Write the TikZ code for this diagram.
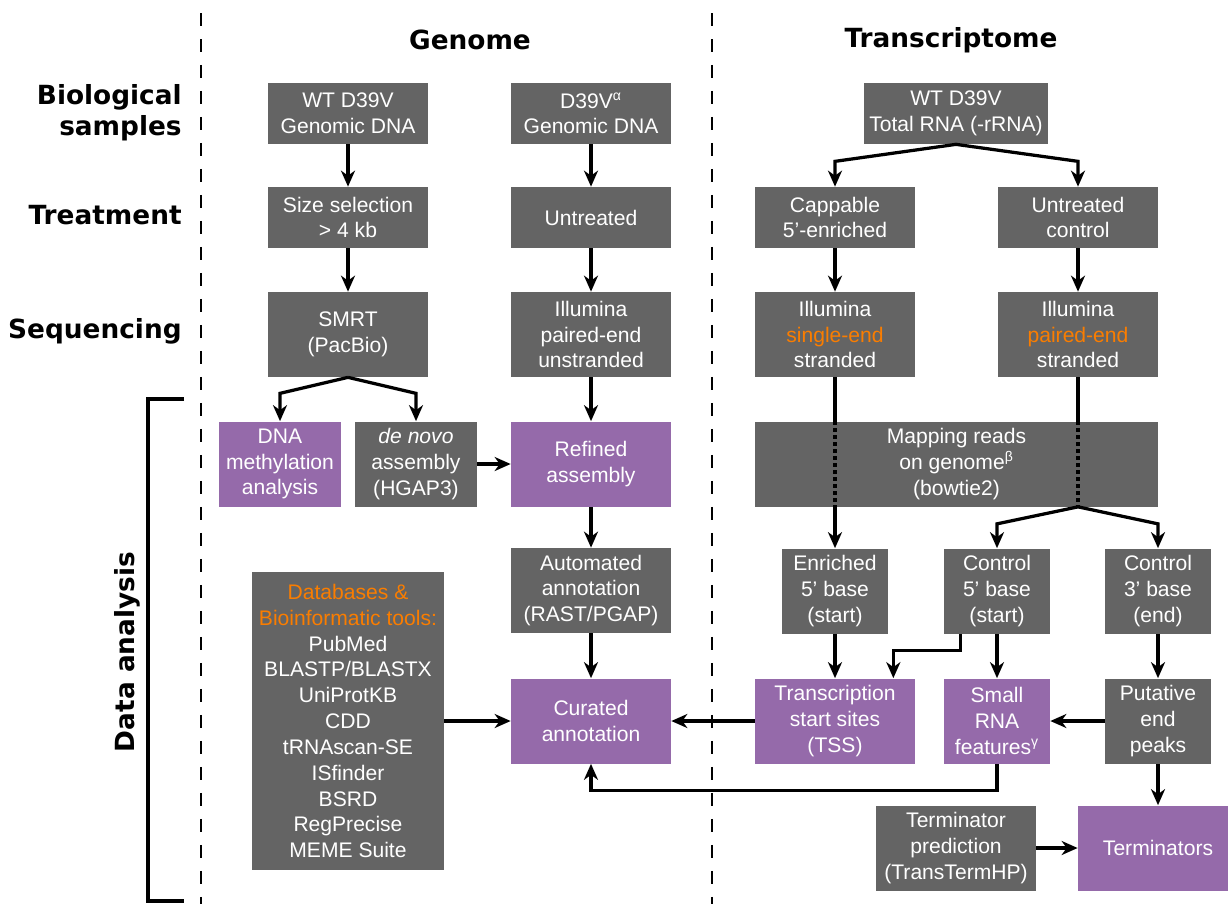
\documentclass[tikz,border=0pt]{standalone}
\usepackage{fontspec}
\setmainfont{Liberation Sans}
\newfontfamily\headfont{DejaVu Sans}
\usetikzlibrary{arrows.meta, positioning}
\definecolor{boxgray}{RGB}{100,100,100}
\definecolor{boxpurple}{RGB}{149,106,170}
\definecolor{hlorange}{RGB}{250,125,0}
\newcommand{\hl}[1]{\textcolor{hlorange}{#1}}

\begin{document}
\begin{tikzpicture}[x=0.02cm, y=-0.02cm,
    box/.style={rectangle, fill=boxgray, text=white, align=center, inner sep=0pt,
        font=\fontsize{12}{14.7}\selectfont, minimum width=3.2cm, minimum height=1.7cm},
    res/.style={box, fill=boxpurple},
    short/.style={minimum height=1.22cm},
    mid/.style={minimum width=2.44cm},
    slim/.style={minimum width=2.12cm},
    head/.style={font=\headfont\bfseries\fontsize{15}{17.5}\selectfont, align=right, inner xsep=0pt},
    arr/.style={line width=0.065cm, -{Stealth[length=0.32cm,width=0.28cm,inset=0.1cm]}},
    link/.style={line width=0.065cm},
    inbox/.style={line width=0.065cm, dash pattern=on 0.08cm off 0.06cm},
    divider/.style={line width=0.05cm, dash pattern=on 0.26cm off 0.26cm}]
    \useasboundingbox (0,0) rectangle (1228,904);

    % Column separators and the data analysis bracket
    \draw[divider] (201,13) -- (201,904);
    \draw[divider] (712,13) -- (712,904);
    \draw[line width=0.09cm] (184,399) -- (148,399) -- (148,901) -- (184,901);

    % Titles and row labels
    \node[head] (genome) at (470,40) {Genome};
    \node[head] (transcr) at (951,40) {Transcriptome};
    \node[head, anchor=east] (biosamp) at (182,113) {Biological\\samples};
    \node[head, anchor=east] (treat) at (182,215) {Treatment};
    \node[head, anchor=east] (seq) at (182,331) {Sequencing};
    \node[head, rotate=90] (datana) at (127,652) {Data analysis};

    % Genome: long reads
    \node[box, short] (wtdna) at (348,113.5) {WT D39V\\Genomic DNA};
    \node[box, short] (sizesel) at (348,217.5) {Size selection\\> 4 kb};
    \node[box] (smrt) at (348,334.5) {SMRT\\(PacBio)};
    \node[res, mid] (methyl) at (280,464) {DNA\\methylation\\analysis};
    \node[box, mid] (denovo) at (416,464) {\textit{de novo}\\assembly\\(HGAP3)};
    \node[box, minimum width=3.84cm, minimum height=5.96cm] (dbtools) at (348,721)
        {\hl{Databases \&}\\\hl{Bioinformatic tools:}\\PubMed\\BLASTP/BLASTX\\UniProtKB\\CDD\\tRNAscan-SE\\ISfinder\\BSRD\\RegPrecise\\MEME Suite};

    % Genome: short reads
    \node[box, short] (alphadna) at (591,113.5) {D39V\textsuperscript{α}\\Genomic DNA};
    \node[box, short] (untreated) at (591,217.5) {Untreated};
    \node[box] (illgen) at (591,334.5) {Illumina\\paired-end\\unstranded};
    \node[res] (refined) at (591,464) {Refined\\assembly};
    \node[box] (autoann) at (591,590.5) {Automated\\annotation\\(RAST/PGAP)};
    \node[res] (curated) at (591,721) {Curated\\annotation};

    % Transcriptome
    \node[box, short, minimum width=3.68cm] (totrna) at (956,113.5) {WT D39V\\Total RNA (-rRNA)};
    \node[box, short] (cappable) at (835,217.5) {Cappable\\5’-enriched};
    \node[box, short] (control) at (1078,217.5) {Untreated\\control};
    \node[box] (illse) at (835,334.5) {Illumina\\\hl{single-end}\\stranded};
    \node[box] (illpe) at (1078,334.5) {Illumina\\\hl{paired-end}\\stranded};
    \node[box, minimum width=8.06cm] (mapping) at (956.5,464) {Mapping reads\\on genome\textsuperscript{β}\\(bowtie2)};
    \node[box, slim] (enrstart) at (835,591) {Enriched\\5’ base\\(start)};
    \node[box, slim] (ctlstart) at (997,591) {Control\\5’ base\\(start)};
    \node[box, slim] (ctlend) at (1158,591) {Control\\3’ base\\(end)};
    \node[res] (tss) at (835,721) {Transcription\\start sites\\(TSS)};
    \node[res, slim] (srna) at (997,721) {Small\\RNA\\features\textsuperscript{γ}};
    \node[box, slim] (peaks) at (1158,721) {Putative\\end\\peaks};
    \node[box] (termpred) at (956,848) {Terminator\\prediction\\(TransTermHP)};
    \node[res] (term) at (1158,848) {Terminators};

    % Genome arrows
    \draw[arr] (wtdna) -- (sizesel);
    \draw[arr] (sizesel) -- (smrt);
    \draw[arr] (smrt.south) -- ++(-68,16) -- (methyl.north);
    \draw[arr] (smrt.south) -- ++(68,16) -- (denovo.north);
    \draw[arr] (alphadna) -- (untreated);
    \draw[arr] (untreated) -- (illgen);
    \draw[arr] (illgen) -- (refined);
    \draw[arr] (denovo) -- (refined);
    \draw[arr] (refined) -- (autoann);
    \draw[arr] (autoann) -- (curated);
    \draw[arr] (dbtools) -- (curated);

    % Transcriptome arrows
    \draw[arr] (totrna.south) -- ++(-121,17) -- (cappable.north);
    \draw[arr] (totrna.south) -- ++(122,17) -- (control.north);
    \draw[arr] (cappable) -- (illse);
    \draw[arr] (control) -- (illpe);
    \draw[link] (illse.south) -- (mapping.north -| illse);
    \draw[inbox] (mapping.north -| illse) -- (mapping.south -| illse);
    \draw[arr] (mapping.south -| illse) -- (enrstart.north);
    \draw[link] (illpe.south) -- (mapping.north -| illpe);
    \draw[inbox] (mapping.north -| illpe) -- (mapping.south -| illpe);
    \draw[arr] (mapping.south -| illpe) -- ++(-81,17) -- (ctlstart.north);
    \draw[arr] (mapping.south -| illpe) -- ++(80,17) -- (ctlend.north);
    \draw[arr] (enrstart) -- (tss);
    \draw[arr] ([xshift=0.34cm]ctlstart.south west) -- ++(0,17) -| ([xshift=-0.44cm]tss.north east);
    \draw[arr] (ctlstart) -- (srna);
    \draw[arr] (ctlend) -- (peaks);
    \draw[arr] (peaks) -- (srna);
    \draw[arr] (tss) -- (curated);
    \draw[arr] (srna.south) -- ++(0,27) -| (curated.south);
    \draw[arr] (peaks) -- (term);
    \draw[arr] (termpred) -- (term);
\end{tikzpicture}
\end{document}
